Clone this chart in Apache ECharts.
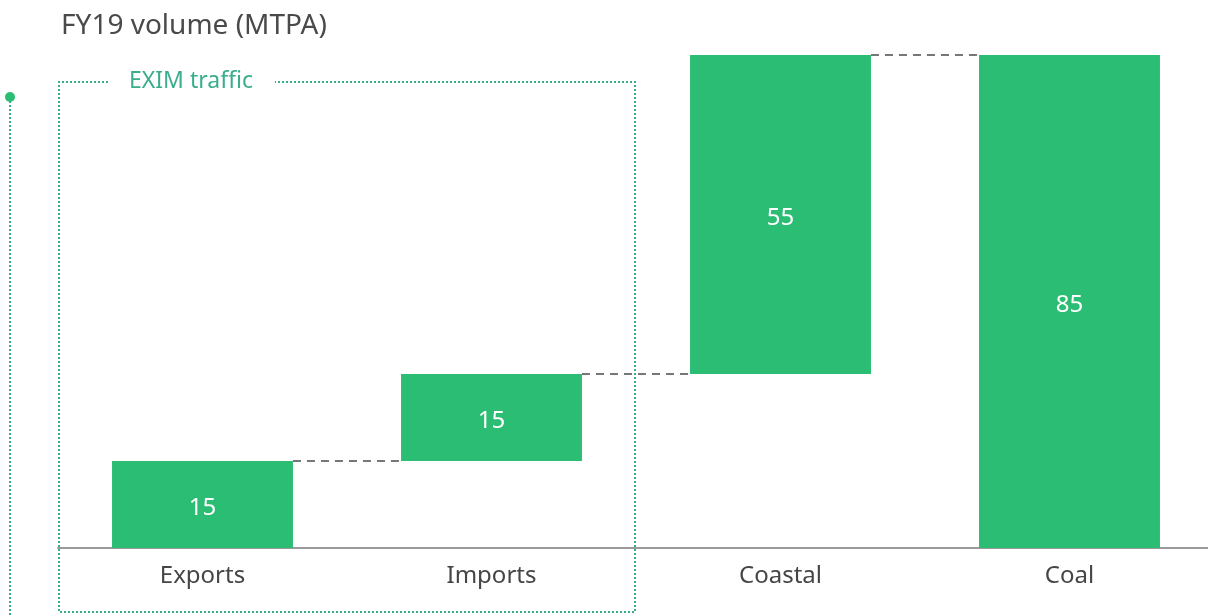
<!DOCTYPE html>
<html><head><meta charset="utf-8">
<script src="https://cdn.jsdelivr.net/npm/echarts@6/dist/echarts.min.js"></script>
<style>html,body{margin:0;padding:0;background:#fff}#c{width:1208px;height:616px}</style>
</head><body><div id="c"></div>
<script>
const categories = ['Exports', 'Imports', 'Coastal', 'Coal'];
const baseValues = [0, 15, 30, 0];
const barValues = [15, 15, 55, 85];
const connectorTops = [15, 30, 85];

const GREEN = '#2bbd73';
const DOT_GREEN = '#3aae8c';
const FONT = 'Noto Sans';
const BAR_RATIO = 0.626;

const chart = echarts.init(document.getElementById('c'));
chart.setOption({
  animation: false,
  textStyle: { fontFamily: FONT },
  grid: { left: 58, right: -6, top: 55, bottom: 68, containLabel: false, outerBoundsMode: 'none' },
  xAxis: {
    type: 'category', data: categories,
    axisLine: { lineStyle: { color: '#9a9a9a', width: 2 } },
    axisTick: { show: false },
    axisLabel: { color: '#454545', fontSize: 24, margin: 16, fontFamily: FONT }
  },
  yAxis: { type: 'value', min: 0, max: 85, show: false, splitLine: { show: false } },
  series: [
    { type: 'bar', stack: 'w', data: baseValues, barWidth: (BAR_RATIO * 100) + '%',
      itemStyle: { color: 'transparent' }, silent: true },
    { type: 'bar', stack: 'w', data: barValues, barWidth: (BAR_RATIO * 100) + '%',
      itemStyle: { color: GREEN },
      label: { show: true, position: 'inside', offset: [0, 4], color: '#fff', fontSize: 24, fontFamily: FONT } },
    { type: 'custom', data: connectorTops.map((v, i) => [i, v]), z: 3,
      renderItem: function (params, api) {
        const i = api.value(0), v = api.value(1);
        const p1 = api.coord([i, v]);
        const p2 = api.coord([i + 1, v]);
        const half = api.size([1, 0])[0] * BAR_RATIO / 2;
        return { type: 'line', shape: { x1: p1[0] + half, y1: p1[1], x2: p2[0] - half, y2: p2[1] },
          style: { stroke: '#777', lineWidth: 2, lineDash: [8, 6] } };
      } }
  ],
  graphic: [
    { type: 'text', x: 61, y: 26, style: { text: 'FY19 volume (MTPA)', fill: '#4a4a4a', fontSize: 28, fontFamily: FONT, verticalAlign: 'middle' } },
    { type: 'line', shape: { x1: 10, y1: 97, x2: 10, y2: 616 }, style: { stroke: DOT_GREEN, lineWidth: 2, lineDash: [2, 2] } },
    { type: 'circle', shape: { cx: 10, cy: 97, r: 5 }, style: { fill: GREEN } },
    { type: 'polyline', shape: { points: [[108, 82], [59, 82], [59, 612], [635, 612], [635, 82], [275, 82]] },
      style: { stroke: DOT_GREEN, lineWidth: 2, lineDash: [2, 2], fill: null } },
    { type: 'text', x: 129, y: 81, style: { text: 'EXIM traffic', fill: DOT_GREEN, fontSize: 23, fontFamily: FONT, verticalAlign: 'middle' } }
  ]
});
</script></body></html>
